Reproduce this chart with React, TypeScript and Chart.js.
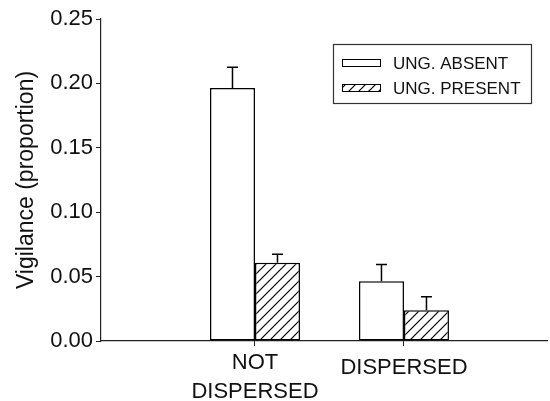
import React, { useEffect, useRef } from "react";
import { Chart, registerables } from "chart.js";

Chart.register(...registerables);

const categories: string[][] = [["NOT", "DISPERSED"], ["DISPERSED"]];
const categoryPositions = [1, 2];
const seriesLabels = ["UNG. ABSENT", "UNG. PRESENT"];
const absentValues = [0.1965, 0.0463];
const presentValues = [0.0607, 0.0238];
const absentErrors = [0.016, 0.013];
const presentErrors = [0.0066, 0.0106];
const yTicks = [0, 0.05, 0.1, 0.15, 0.2, 0.25];

const FONT = "'Liberation Sans', Arial, Helvetica, sans-serif";
const AXIS = "#222";
const TEXT = "#111";

function makeHatch(ctx: CanvasRenderingContext2D): CanvasPattern {
  const s = 10;
  const c = document.createElement("canvas");
  c.width = s;
  c.height = s;
  const g = c.getContext("2d")!;
  g.fillStyle = "#fff";
  g.fillRect(0, 0, s, s);
  g.strokeStyle = "#000";
  g.lineWidth = 1.2;
  g.beginPath();
  g.moveTo(-1, s + 1);
  g.lineTo(s + 1, -1);
  g.moveTo(-1, 1);
  g.lineTo(1, -1);
  g.moveTo(s - 1, s + 1);
  g.lineTo(s + 1, s - 1);
  g.stroke();
  return ctx.createPattern(c, "repeat")!;
}

const errorLists = [absentErrors, presentErrors];

const errorBarsPlugin = {
  id: "errorBars",
  afterDatasetsDraw(chart: any) {
    const ctx = chart.ctx as CanvasRenderingContext2D;
    const yScale = chart.scales.y;
    ctx.save();
    ctx.strokeStyle = "#000";
    ctx.lineWidth = 1.5;
    chart.data.datasets.forEach((ds: any, di: number) => {
      const meta = chart.getDatasetMeta(di);
      meta.data.forEach((el: any, i: number) => {
        const v = ds.data[i].y;
        const top = yScale.getPixelForValue(v + errorLists[di][i]);
        ctx.beginPath();
        ctx.moveTo(el.x, el.y);
        ctx.lineTo(el.x, top);
        ctx.moveTo(el.x - 5.5, top);
        ctx.lineTo(el.x + 5.5, top);
        ctx.stroke();
      });
    });
    ctx.restore();
  },
};

const legendPlugin = {
  id: "boxLegend",
  afterDraw(chart: any) {
    const ctx = chart.ctx as CanvasRenderingContext2D;
    const bx = 333.5, by = 44.5, bw = 198, bh = 59;
    ctx.save();
    ctx.strokeStyle = "#333";
    ctx.lineWidth = 1.2;
    ctx.strokeRect(bx, by, bw, bh);
    const rows = [63, 88];
    chart.data.datasets.forEach((ds: any, i: number) => {
      const cy = rows[i];
      ctx.fillStyle = ds.backgroundColor;
      ctx.fillRect(342, cy - 3.5, 38, 7);
      ctx.strokeStyle = "#000";
      ctx.lineWidth = 1;
      ctx.strokeRect(342.5, cy - 3.5, 38, 7);
      ctx.fillStyle = TEXT;
      ctx.font = `17px ${FONT}`;
      ctx.textAlign = "left";
      ctx.textBaseline = "middle";
      ctx.fillText(ds.label, 393, cy + 1);
    });
    ctx.restore();
  },
};

export default function App() {
  const ref = useRef<HTMLCanvasElement | null>(null);

  useEffect(() => {
    const canvas = ref.current!;
    const ctx = canvas.getContext("2d")!;
    const hatch = makeHatch(ctx);
    const chart = new Chart(canvas, {
      type: "bar",
      data: {
        datasets: [
          {
            label: seriesLabels[0],
            data: categoryPositions.map((x, i) => ({ x, y: absentValues[i] })),
            backgroundColor: "#ffffff",
            borderColor: "#000",
            borderWidth: 1.5,
            borderSkipped: false,
          },
          {
            label: seriesLabels[1],
            data: categoryPositions.map((x, i) => ({ x, y: presentValues[i] })),
            backgroundColor: hatch as any,
            borderColor: "#000",
            borderWidth: 1.5,
            borderSkipped: false,
          },
        ] as any,
      },
      options: {
        responsive: false,
        animation: false,
        devicePixelRatio: 1,
        layout: { padding: { left: 0, right: 3, top: 19, bottom: 0 } },
        datasets: { bar: { categoryPercentage: 0.604, barPercentage: 1 } },
        plugins: {
          legend: { display: false },
          tooltip: { enabled: false },
        },
        scales: {
          x: {
            type: "linear",
            offset: false,
            min: -0.0336,
            max: 2.96,
            afterBuildTicks: (scale: any) => {
              scale.ticks = categoryPositions.map((v) => ({ value: v }));
            },
            afterFit: (scale: any) => {
              scale.height = 60;
            },
            grid: {
              offset: false,
              drawOnChartArea: false,
              drawTicks: true,
              tickLength: 5,
              color: AXIS,
              lineWidth: 1,
            },
            border: { display: true, color: AXIS, width: 1.2 },
            ticks: {
              autoSkip: false,
              maxRotation: 0,
              padding: 3,
              color: TEXT,
              font: (c: any) => ({
                family: FONT,
                size: 22,
                lineHeight: c.index === 1 ? 1.727 : 1.295,
              }),
              callback: (value: any) => {
                const idx = categoryPositions.indexOf(Number(value));
                return idx >= 0 ? categories[idx] : "";
              },
            },
          },
          y: {
            type: "linear",
            min: 0,
            max: 0.25,
            afterBuildTicks: (scale: any) => {
              scale.ticks = yTicks.map((v) => ({ value: v }));
            },
            afterFit: (scale: any) => {
              scale.width = 101;
            },
            grid: {
              drawOnChartArea: false,
              drawTicks: true,
              tickLength: 5,
              color: AXIS,
              lineWidth: 1,
            },
            border: { display: true, color: AXIS, width: 1.2 },
            ticks: {
              padding: 3,
              color: TEXT,
              font: { family: FONT, size: 22 },
              callback: (value: any) => Number(value).toFixed(2),
            },
            title: {
              display: true,
              text: "Vigilance (proportion)",
              color: TEXT,
              font: { family: FONT, size: 23 },
              padding: { top: 13, bottom: 0 },
            },
          },
        },
      },
      plugins: [errorBarsPlugin, legendPlugin],
    });
    return () => chart.destroy();
  }, []);

  return (
    <canvas
      ref={ref}
      width={550}
      height={401}
      style={{ position: "fixed", left: 0, top: 0, width: 550, height: 401, background: "#fff" }}
    />
  );
}
